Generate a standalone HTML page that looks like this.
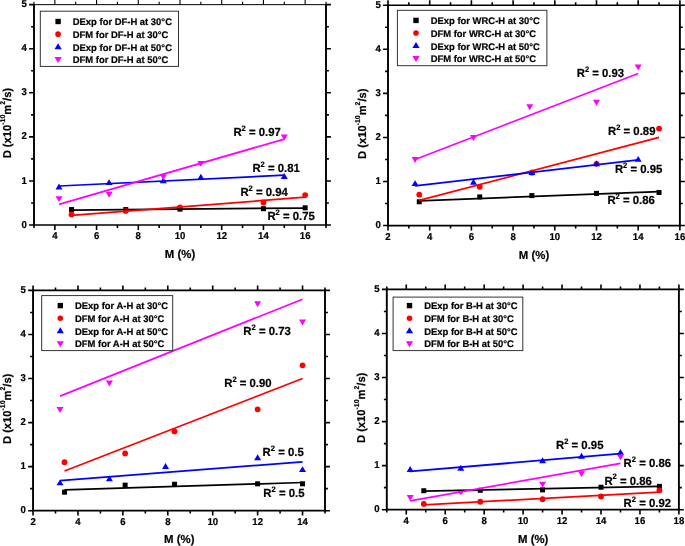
<!DOCTYPE html>
<html><head><meta charset="utf-8"><title>Diffusion coefficient vs moisture</title>
<style>
html,body{margin:0;padding:0;background:#fff;}
body{width:685px;height:546px;overflow:hidden;}
svg{display:block;will-change:transform;font-family:"Liberation Sans",sans-serif;font-weight:bold;fill:#000;}
text{stroke:#000;stroke-width:0.2px;text-rendering:geometricPrecision;}
</style></head>
<body>
<svg width="685" height="546" viewBox="0 0 685 546">
<rect width="685" height="546" fill="#fff"/>
<g><rect x="69.04" y="207.08" width="5.00" height="5.00" fill="#000000"/>
<rect x="123.27" y="207.08" width="5.00" height="5.00" fill="#000000"/>
<rect x="177.50" y="206.63" width="5.00" height="5.00" fill="#000000"/>
<rect x="260.93" y="206.19" width="5.00" height="5.00" fill="#000000"/>
<rect x="302.64" y="205.31" width="5.00" height="5.00" fill="#000000"/>
<circle cx="71.54" cy="214.42" r="2.90" fill="#ff0000"/>
<circle cx="125.77" cy="210.90" r="2.90" fill="#ff0000"/>
<circle cx="180.00" cy="207.37" r="2.90" fill="#ff0000"/>
<circle cx="263.43" cy="202.52" r="2.90" fill="#ff0000"/>
<circle cx="305.14" cy="195.03" r="2.90" fill="#ff0000"/>
<polygon points="59.03,183.56 55.53,189.46 62.53,189.46" fill="#0000ff"/>
<polygon points="109.09,179.15 105.59,185.05 112.59,185.05" fill="#0000ff"/>
<polygon points="163.31,177.39 159.81,183.29 166.81,183.29" fill="#0000ff"/>
<polygon points="200.86,173.86 197.36,179.76 204.36,179.76" fill="#0000ff"/>
<polygon points="284.29,172.98 280.79,178.88 287.79,178.88" fill="#0000ff"/>
<polygon points="59.03,202.10 55.53,196.20 62.53,196.20" fill="#ff00ff"/>
<polygon points="109.09,197.69 105.59,191.79 112.59,191.79" fill="#ff00ff"/>
<polygon points="163.31,180.06 159.81,174.16 166.81,174.16" fill="#ff00ff"/>
<polygon points="200.86,166.84 197.36,160.94 204.36,160.94" fill="#ff00ff"/>
<polygon points="284.29,140.40 280.79,134.50 287.79,134.50" fill="#ff00ff"/>
<line x1="71.54" y1="210.02" x2="305.14" y2="208.03" stroke="#000000" stroke-width="1.75"/>
<line x1="71.54" y1="215.30" x2="305.14" y2="197.24" stroke="#ff0000" stroke-width="1.75"/>
<line x1="59.03" y1="186.00" x2="284.29" y2="175.20" stroke="#0000ff" stroke-width="1.75"/>
<line x1="59.03" y1="204.29" x2="284.29" y2="139.06" stroke="#ff00ff" stroke-width="1.75"/>
<path d="M34.00 4.15V225.85M326.00 4.15V225.85" stroke="#000" stroke-width="1.9" fill="none"/>
<path d="M34.00 225.00H326.00" stroke="#000" stroke-width="1.7" fill="none"/>
<path d="M34.00 4.65H326.00" stroke="#000" stroke-width="1.0" fill="none"/>
<path d="M34.00 225.00v2.9M54.86 225.00v4.9M75.71 225.00v2.9M96.57 225.00v4.9M117.43 225.00v2.9M138.29 225.00v4.9M159.14 225.00v2.9M180.00 225.00v4.9M200.86 225.00v2.9M221.71 225.00v4.9M242.57 225.00v2.9M263.43 225.00v4.9M284.29 225.00v2.9M305.14 225.00v4.9M326.00 225.00v2.9M34.00 225.00h-4.9M326.00 225.00h4.9M34.00 202.97h-2.9M326.00 202.97h2.9M34.00 180.93h-4.9M326.00 180.93h4.9M34.00 158.89h-2.9M326.00 158.89h2.9M34.00 136.86h-4.9M326.00 136.86h4.9M34.00 114.83h-2.9M326.00 114.83h2.9M34.00 92.79h-4.9M326.00 92.79h4.9M34.00 70.75h-2.9M326.00 70.75h2.9M34.00 48.72h-4.9M326.00 48.72h4.9M34.00 26.69h-2.9M326.00 26.69h2.9M34.00 4.65h-4.9M326.00 4.65h4.9" stroke="#000" stroke-width="1.6" fill="none"/>
<path d="M34.00 4.65v-2.9M54.86 4.65v-4.9M75.71 4.65v-2.9M96.57 4.65v-4.9M117.43 4.65v-2.9M138.29 4.65v-4.9M159.14 4.65v-2.9M180.00 4.65v-4.9M200.86 4.65v-2.9M221.71 4.65v-4.9M242.57 4.65v-2.9M263.43 4.65v-4.9M284.29 4.65v-2.9M305.14 4.65v-4.9M326.00 4.65v-2.9" stroke="#000" stroke-width="1.10" fill="none"/>
<text transform="translate(54.86 239.00) scale(1 1.04)" text-anchor="middle" font-size="9.6">4</text>
<text transform="translate(96.57 239.00) scale(1 1.04)" text-anchor="middle" font-size="9.6">6</text>
<text transform="translate(138.29 239.00) scale(1 1.04)" text-anchor="middle" font-size="9.6">8</text>
<text transform="translate(180.00 239.00) scale(1 1.04)" text-anchor="middle" font-size="9.6">10</text>
<text transform="translate(221.71 239.00) scale(1 1.04)" text-anchor="middle" font-size="9.6">12</text>
<text transform="translate(263.43 239.00) scale(1 1.04)" text-anchor="middle" font-size="9.6">14</text>
<text transform="translate(305.14 239.00) scale(1 1.04)" text-anchor="middle" font-size="9.6">16</text>
<text transform="translate(26.90 227.60) scale(1 1.04)" text-anchor="end" font-size="9.6">0</text>
<text transform="translate(26.90 183.53) scale(1 1.04)" text-anchor="end" font-size="9.6">1</text>
<text transform="translate(26.90 139.46) scale(1 1.04)" text-anchor="end" font-size="9.6">2</text>
<text transform="translate(26.90 95.39) scale(1 1.04)" text-anchor="end" font-size="9.6">3</text>
<text transform="translate(26.90 51.32) scale(1 1.04)" text-anchor="end" font-size="9.6">4</text>
<text transform="translate(26.90 7.25) scale(1 1.04)" text-anchor="end" font-size="9.6">5</text>
<text transform="translate(180.00 258.00) scale(1 1.02)" text-anchor="middle" font-size="11.4">M (%)</text>
<text transform="translate(11.30 123.12) rotate(-90) scale(1 1.02)" text-anchor="middle" font-size="11.2">D (x10<tspan font-size="6.9" dy="-5.7">-10</tspan><tspan dy="5.7">m</tspan><tspan font-size="6.9" dy="-5.7">2</tspan><tspan dy="5.7">/s)</tspan></text>
<rect x="40.30" y="11.20" width="138.20" height="55.20" fill="#fff" stroke="#2a2a2a" stroke-width="0.95"/>
<rect x="55.40" y="18.80" width="5.40" height="5.40" fill="#000000"/>
<text transform="translate(72.75 25.30) scale(1 1.02)" font-size="9.45">DExp for DF-H at 30°C</text>
<circle cx="58.10" cy="34.15" r="2.80" fill="#ff0000"/>
<text transform="translate(72.75 37.95) scale(1 1.02)" font-size="9.45">DFM for DF-H at 30°C</text>
<polygon points="58.10,43.20 54.50,49.20 61.70,49.20" fill="#0000ff"/>
<text transform="translate(72.75 50.60) scale(1 1.02)" font-size="9.45">DExp for DF-H at 50°C</text>
<polygon points="58.10,63.05 54.50,57.05 61.70,57.05" fill="#ff00ff"/>
<text transform="translate(72.75 63.25) scale(1 1.02)" font-size="9.45">DFM for DF-H at 50°C</text>
<text transform="translate(233.40 136.40) scale(1 1.04)" font-size="11.35">R<tspan font-size="7.6" dy="-5.1">2</tspan><tspan dy="5.1"> = 0.97</tspan></text>
<text transform="translate(252.40 172.40) scale(1 1.04)" font-size="11.35">R<tspan font-size="7.6" dy="-5.1">2</tspan><tspan dy="5.1"> = 0.81</tspan></text>
<text transform="translate(240.40 196.40) scale(1 1.04)" font-size="11.35">R<tspan font-size="7.6" dy="-5.1">2</tspan><tspan dy="5.1"> = 0.94</tspan></text>
<text transform="translate(267.40 220.40) scale(1 1.04)" font-size="11.35">R<tspan font-size="7.6" dy="-5.1">2</tspan><tspan dy="5.1"> = 0.75</tspan></text></g>
<g><rect x="416.77" y="199.26" width="5.00" height="5.00" fill="#000000"/>
<rect x="477.24" y="194.41" width="5.00" height="5.00" fill="#000000"/>
<rect x="529.37" y="193.09" width="5.00" height="5.00" fill="#000000"/>
<rect x="594.00" y="190.89" width="5.00" height="5.00" fill="#000000"/>
<rect x="656.55" y="190.00" width="5.00" height="5.00" fill="#000000"/>
<circle cx="419.27" cy="194.71" r="2.90" fill="#ff0000"/>
<circle cx="479.74" cy="186.78" r="2.90" fill="#ff0000"/>
<circle cx="531.87" cy="172.68" r="2.90" fill="#ff0000"/>
<circle cx="596.50" cy="163.87" r="2.90" fill="#ff0000"/>
<circle cx="659.05" cy="128.62" r="2.90" fill="#ff0000"/>
<polygon points="415.11,180.15 411.61,186.05 418.61,186.05" fill="#0000ff"/>
<polygon points="473.49,178.83 469.99,184.73 476.99,184.73" fill="#0000ff"/>
<polygon points="531.87,169.14 528.37,175.04 535.37,175.04" fill="#0000ff"/>
<polygon points="596.50,160.33 593.00,166.23 600.00,166.23" fill="#0000ff"/>
<polygon points="638.20,155.92 634.70,161.82 641.70,161.82" fill="#0000ff"/>
<polygon points="415.11,163.00 411.61,157.10 418.61,157.10" fill="#ff00ff"/>
<polygon points="473.49,140.97 469.99,135.07 476.99,135.07" fill="#ff00ff"/>
<polygon points="529.78,110.13 526.28,104.23 533.28,104.23" fill="#ff00ff"/>
<polygon points="596.50,105.72 593.00,99.82 600.00,99.82" fill="#ff00ff"/>
<polygon points="638.20,70.47 634.70,64.57 641.70,64.57" fill="#ff00ff"/>
<line x1="419.27" y1="200.88" x2="659.05" y2="191.62" stroke="#000000" stroke-width="1.75"/>
<line x1="419.27" y1="200.44" x2="659.05" y2="137.43" stroke="#ff0000" stroke-width="1.75"/>
<line x1="415.11" y1="185.90" x2="638.20" y2="159.90" stroke="#0000ff" stroke-width="1.75"/>
<line x1="415.11" y1="159.46" x2="638.20" y2="73.54" stroke="#ff00ff" stroke-width="1.75"/>
<path d="M388.00 4.40V226.40M679.90 4.40V226.40" stroke="#000" stroke-width="1.9" fill="none"/>
<path d="M388.00 225.55H679.90" stroke="#000" stroke-width="1.7" fill="none"/>
<path d="M388.00 5.25H679.90" stroke="#000" stroke-width="1.7" fill="none"/>
<path d="M388.00 225.55v4.9M408.85 225.55v2.9M429.70 225.55v4.9M450.55 225.55v2.9M471.40 225.55v4.9M492.25 225.55v2.9M513.10 225.55v4.9M533.95 225.55v2.9M554.80 225.55v4.9M575.65 225.55v2.9M596.50 225.55v4.9M617.35 225.55v2.9M638.20 225.55v4.9M659.05 225.55v2.9M679.90 225.55v4.9M388.00 225.55h-4.9M679.90 225.55h4.9M388.00 203.52h-2.9M679.90 203.52h2.9M388.00 181.49h-4.9M679.90 181.49h4.9M388.00 159.46h-2.9M679.90 159.46h2.9M388.00 137.43h-4.9M679.90 137.43h4.9M388.00 115.40h-2.9M679.90 115.40h2.9M388.00 93.37h-4.9M679.90 93.37h4.9M388.00 71.34h-2.9M679.90 71.34h2.9M388.00 49.31h-4.9M679.90 49.31h4.9M388.00 27.28h-2.9M679.90 27.28h2.9M388.00 5.25h-4.9M679.90 5.25h4.9" stroke="#000" stroke-width="1.6" fill="none"/>
<path d="M388.00 5.25v-4.9M408.85 5.25v-2.9M429.70 5.25v-4.9M450.55 5.25v-2.9M471.40 5.25v-4.9M492.25 5.25v-2.9M513.10 5.25v-4.9M533.95 5.25v-2.9M554.80 5.25v-4.9M575.65 5.25v-2.9M596.50 5.25v-4.9M617.35 5.25v-2.9M638.20 5.25v-4.9M659.05 5.25v-2.9M679.90 5.25v-4.9" stroke="#000" stroke-width="1.60" fill="none"/>
<text transform="translate(388.00 239.55) scale(1 1.04)" text-anchor="middle" font-size="9.6">2</text>
<text transform="translate(429.70 239.55) scale(1 1.04)" text-anchor="middle" font-size="9.6">4</text>
<text transform="translate(471.40 239.55) scale(1 1.04)" text-anchor="middle" font-size="9.6">6</text>
<text transform="translate(513.10 239.55) scale(1 1.04)" text-anchor="middle" font-size="9.6">8</text>
<text transform="translate(554.80 239.55) scale(1 1.04)" text-anchor="middle" font-size="9.6">10</text>
<text transform="translate(596.50 239.55) scale(1 1.04)" text-anchor="middle" font-size="9.6">12</text>
<text transform="translate(638.20 239.55) scale(1 1.04)" text-anchor="middle" font-size="9.6">14</text>
<text transform="translate(679.90 239.55) scale(1 1.04)" text-anchor="middle" font-size="9.6">16</text>
<text transform="translate(380.90 228.15) scale(1 1.04)" text-anchor="end" font-size="9.6">0</text>
<text transform="translate(380.90 184.09) scale(1 1.04)" text-anchor="end" font-size="9.6">1</text>
<text transform="translate(380.90 140.03) scale(1 1.04)" text-anchor="end" font-size="9.6">2</text>
<text transform="translate(380.90 95.97) scale(1 1.04)" text-anchor="end" font-size="9.6">3</text>
<text transform="translate(380.90 51.91) scale(1 1.04)" text-anchor="end" font-size="9.6">4</text>
<text transform="translate(380.90 7.85) scale(1 1.04)" text-anchor="end" font-size="9.6">5</text>
<text transform="translate(534.00 258.50) scale(1 1.02)" text-anchor="middle" font-size="11.4">M (%)</text>
<text transform="translate(365.90 123.70) rotate(-90) scale(1 1.02)" text-anchor="middle" font-size="11.2">D (x10<tspan font-size="6.9" dy="-5.7">-10</tspan><tspan dy="5.7">m</tspan><tspan font-size="6.9" dy="-5.7">2</tspan><tspan dy="5.7">/s)</tspan></text>
<rect x="397.40" y="10.30" width="149.50" height="55.40" fill="#fff" stroke="#2a2a2a" stroke-width="0.95"/>
<rect x="413.30" y="17.70" width="5.40" height="5.40" fill="#000000"/>
<text transform="translate(430.65 24.20) scale(1 1.02)" font-size="9.45">DExp for WRC-H at 30°C</text>
<circle cx="416.00" cy="33.05" r="2.80" fill="#ff0000"/>
<text transform="translate(430.65 36.85) scale(1 1.02)" font-size="9.45">DFM for WRC-H at 30°C</text>
<polygon points="416.00,42.10 412.40,48.10 419.60,48.10" fill="#0000ff"/>
<text transform="translate(430.65 49.50) scale(1 1.02)" font-size="9.45">DExp for WRC-H at 50°C</text>
<polygon points="416.00,61.95 412.40,55.95 419.60,55.95" fill="#ff00ff"/>
<text transform="translate(430.65 62.15) scale(1 1.02)" font-size="9.45">DFM for WRC-H at 50°C</text>
<text transform="translate(576.70 77.10) scale(1 1.04)" font-size="11.35">R<tspan font-size="7.6" dy="-5.1">2</tspan><tspan dy="5.1"> = 0.93</tspan></text>
<text transform="translate(608.00 135.00) scale(1 1.04)" font-size="11.35">R<tspan font-size="7.6" dy="-5.1">2</tspan><tspan dy="5.1"> = 0.89</tspan></text>
<text transform="translate(614.90 173.40) scale(1 1.04)" font-size="11.35">R<tspan font-size="7.6" dy="-5.1">2</tspan><tspan dy="5.1"> = 0.95</tspan></text>
<text transform="translate(607.40 204.00) scale(1 1.04)" font-size="11.35">R<tspan font-size="7.6" dy="-5.1">2</tspan><tspan dy="5.1"> = 0.86</tspan></text></g>
<g><rect x="61.99" y="489.69" width="5.00" height="5.00" fill="#000000"/>
<rect x="122.63" y="482.65" width="5.00" height="5.00" fill="#000000"/>
<rect x="172.03" y="481.76" width="5.00" height="5.00" fill="#000000"/>
<rect x="255.13" y="481.32" width="5.00" height="5.00" fill="#000000"/>
<rect x="300.04" y="481.32" width="5.00" height="5.00" fill="#000000"/>
<circle cx="64.49" cy="462.23" r="2.90" fill="#ff0000"/>
<circle cx="125.13" cy="453.42" r="2.90" fill="#ff0000"/>
<circle cx="174.53" cy="431.39" r="2.90" fill="#ff0000"/>
<circle cx="257.63" cy="409.36" r="2.90" fill="#ff0000"/>
<circle cx="302.54" cy="365.30" r="2.90" fill="#ff0000"/>
<polygon points="60.00,479.40 56.50,485.30 63.50,485.30" fill="#0000ff"/>
<polygon points="109.41,475.44 105.91,481.34 112.91,481.34" fill="#0000ff"/>
<polygon points="165.55,463.10 162.05,469.00 169.05,469.00" fill="#0000ff"/>
<polygon points="257.63,454.29 254.13,460.19 261.13,460.19" fill="#0000ff"/>
<polygon points="302.54,466.18 299.04,472.08 306.04,472.08" fill="#0000ff"/>
<polygon points="60.00,412.90 56.50,407.00 63.50,407.00" fill="#ff00ff"/>
<polygon points="109.41,386.47 105.91,380.57 112.91,380.57" fill="#ff00ff"/>
<polygon points="257.63,307.16 254.13,301.26 261.13,301.26" fill="#ff00ff"/>
<polygon points="302.54,325.44 299.04,319.54 306.04,319.54" fill="#ff00ff"/>
<line x1="64.49" y1="489.99" x2="302.54" y2="482.50" stroke="#000000" stroke-width="1.75"/>
<line x1="64.49" y1="471.05" x2="302.54" y2="378.52" stroke="#ff0000" stroke-width="1.75"/>
<line x1="60.00" y1="480.74" x2="302.54" y2="461.79" stroke="#0000ff" stroke-width="1.75"/>
<line x1="60.00" y1="396.14" x2="302.54" y2="299.21" stroke="#ff00ff" stroke-width="1.75"/>
<path d="M33.05 289.55V511.55M325.00 289.55V511.55" stroke="#000" stroke-width="1.9" fill="none"/>
<path d="M33.05 510.70H325.00" stroke="#000" stroke-width="1.7" fill="none"/>
<path d="M33.05 290.40H325.00" stroke="#000" stroke-width="1.7" fill="none"/>
<path d="M33.05 510.70v4.9M55.51 510.70v2.9M77.97 510.70v4.9M100.42 510.70v2.9M122.88 510.70v4.9M145.34 510.70v2.9M167.80 510.70v4.9M190.25 510.70v2.9M212.71 510.70v4.9M235.17 510.70v2.9M257.63 510.70v4.9M280.08 510.70v2.9M302.54 510.70v4.9M325.00 510.70v2.9M33.05 510.70h-4.9M325.00 510.70h4.9M33.05 488.67h-2.9M325.00 488.67h2.9M33.05 466.64h-4.9M325.00 466.64h4.9M33.05 444.61h-2.9M325.00 444.61h2.9M33.05 422.58h-4.9M325.00 422.58h4.9M33.05 400.55h-2.9M325.00 400.55h2.9M33.05 378.52h-4.9M325.00 378.52h4.9M33.05 356.49h-2.9M325.00 356.49h2.9M33.05 334.46h-4.9M325.00 334.46h4.9M33.05 312.43h-2.9M325.00 312.43h2.9M33.05 290.40h-4.9M325.00 290.40h4.9" stroke="#000" stroke-width="1.6" fill="none"/>
<path d="M33.05 290.40v-4.9M55.51 290.40v-2.9M77.97 290.40v-4.9M100.42 290.40v-2.9M122.88 290.40v-4.9M145.34 290.40v-2.9M167.80 290.40v-4.9M190.25 290.40v-2.9M212.71 290.40v-4.9M235.17 290.40v-2.9M257.63 290.40v-4.9M280.08 290.40v-2.9M302.54 290.40v-4.9M325.00 290.40v-2.9" stroke="#000" stroke-width="1.60" fill="none"/>
<text transform="translate(33.05 524.70) scale(1 1.04)" text-anchor="middle" font-size="9.6">2</text>
<text transform="translate(77.97 524.70) scale(1 1.04)" text-anchor="middle" font-size="9.6">4</text>
<text transform="translate(122.88 524.70) scale(1 1.04)" text-anchor="middle" font-size="9.6">6</text>
<text transform="translate(167.80 524.70) scale(1 1.04)" text-anchor="middle" font-size="9.6">8</text>
<text transform="translate(212.71 524.70) scale(1 1.04)" text-anchor="middle" font-size="9.6">10</text>
<text transform="translate(257.63 524.70) scale(1 1.04)" text-anchor="middle" font-size="9.6">12</text>
<text transform="translate(302.54 524.70) scale(1 1.04)" text-anchor="middle" font-size="9.6">14</text>
<text transform="translate(25.95 513.30) scale(1 1.04)" text-anchor="end" font-size="9.6">0</text>
<text transform="translate(25.95 469.24) scale(1 1.04)" text-anchor="end" font-size="9.6">1</text>
<text transform="translate(25.95 425.18) scale(1 1.04)" text-anchor="end" font-size="9.6">2</text>
<text transform="translate(25.95 381.12) scale(1 1.04)" text-anchor="end" font-size="9.6">3</text>
<text transform="translate(25.95 337.06) scale(1 1.04)" text-anchor="end" font-size="9.6">4</text>
<text transform="translate(25.95 293.00) scale(1 1.04)" text-anchor="end" font-size="9.6">5</text>
<text transform="translate(179.30 543.40) scale(1 1.02)" text-anchor="middle" font-size="11.4">M (%)</text>
<text transform="translate(10.80 408.85) rotate(-90) scale(1 1.02)" text-anchor="middle" font-size="11.2">D (x10<tspan font-size="6.9" dy="-5.7">-10</tspan><tspan dy="5.7">m</tspan><tspan font-size="6.9" dy="-5.7">2</tspan><tspan dy="5.7">/s)</tspan></text>
<rect x="41.70" y="295.60" width="131.00" height="55.00" fill="#fff" stroke="#2a2a2a" stroke-width="0.95"/>
<rect x="57.60" y="302.90" width="5.40" height="5.40" fill="#000000"/>
<text transform="translate(74.95 309.40) scale(1 1.02)" font-size="9.45">DExp for A-H at 30°C</text>
<circle cx="60.30" cy="318.25" r="2.80" fill="#ff0000"/>
<text transform="translate(74.95 322.05) scale(1 1.02)" font-size="9.45">DFM for A-H at 30°C</text>
<polygon points="60.30,327.30 56.70,333.30 63.90,333.30" fill="#0000ff"/>
<text transform="translate(74.95 334.70) scale(1 1.02)" font-size="9.45">DExp for A-H at 50°C</text>
<polygon points="60.30,347.15 56.70,341.15 63.90,341.15" fill="#ff00ff"/>
<text transform="translate(74.95 347.35) scale(1 1.02)" font-size="9.45">DFM for A-H at 50°C</text>
<text transform="translate(243.30 335.00) scale(1 1.04)" font-size="11.35">R<tspan font-size="7.6" dy="-5.1">2</tspan><tspan dy="5.1"> = 0.73</tspan></text>
<text transform="translate(224.20 387.40) scale(1 1.04)" font-size="11.35">R<tspan font-size="7.6" dy="-5.1">2</tspan><tspan dy="5.1"> = 0.90</tspan></text>
<text transform="translate(262.60 455.80) scale(1 1.04)" font-size="11.35">R<tspan font-size="7.6" dy="-5.1">2</tspan><tspan dy="5.1"> = 0.5</tspan></text>
<text transform="translate(263.30 497.20) scale(1 1.04)" font-size="11.35">R<tspan font-size="7.6" dy="-5.1">2</tspan><tspan dy="5.1"> = 0.5</tspan></text></g>
<g><rect x="421.30" y="488.25" width="5.00" height="5.00" fill="#000000"/>
<rect x="477.77" y="487.81" width="5.00" height="5.00" fill="#000000"/>
<rect x="540.09" y="487.37" width="5.00" height="5.00" fill="#000000"/>
<rect x="598.51" y="484.73" width="5.00" height="5.00" fill="#000000"/>
<rect x="656.93" y="483.85" width="5.00" height="5.00" fill="#000000"/>
<circle cx="423.80" cy="503.97" r="2.90" fill="#ff0000"/>
<circle cx="480.27" cy="501.77" r="2.90" fill="#ff0000"/>
<circle cx="542.59" cy="499.13" r="2.90" fill="#ff0000"/>
<circle cx="601.01" cy="496.48" r="2.90" fill="#ff0000"/>
<circle cx="659.43" cy="490.31" r="2.90" fill="#ff0000"/>
<polygon points="410.17,466.07 406.67,471.97 413.67,471.97" fill="#0000ff"/>
<polygon points="460.80,464.74 457.30,470.64 464.30,470.64" fill="#0000ff"/>
<polygon points="542.59,457.25 539.09,463.15 546.09,463.15" fill="#0000ff"/>
<polygon points="581.53,452.85 578.03,458.75 585.03,458.75" fill="#0000ff"/>
<polygon points="620.48,448.88 616.98,454.78 623.98,454.78" fill="#0000ff"/>
<polygon points="410.17,500.90 406.67,495.00 413.67,495.00" fill="#ff00ff"/>
<polygon points="460.80,495.62 457.30,489.72 464.30,489.72" fill="#ff00ff"/>
<polygon points="542.59,487.69 539.09,481.79 546.09,481.79" fill="#ff00ff"/>
<polygon points="581.53,477.11 578.03,471.21 585.03,471.21" fill="#ff00ff"/>
<polygon points="620.48,460.37 616.98,454.47 623.98,454.47" fill="#ff00ff"/>
<line x1="423.80" y1="491.19" x2="659.43" y2="486.35" stroke="#000000" stroke-width="1.75"/>
<line x1="423.80" y1="504.85" x2="659.43" y2="492.08" stroke="#ff0000" stroke-width="1.75"/>
<line x1="410.17" y1="471.37" x2="620.48" y2="453.74" stroke="#0000ff" stroke-width="1.75"/>
<line x1="410.17" y1="500.89" x2="620.48" y2="463.44" stroke="#ff00ff" stroke-width="1.75"/>
<path d="M386.80 288.55V510.55M678.90 288.55V510.55" stroke="#000" stroke-width="1.9" fill="none"/>
<path d="M386.80 509.70H678.90" stroke="#000" stroke-width="1.7" fill="none"/>
<path d="M386.80 289.40H678.90" stroke="#000" stroke-width="1.7" fill="none"/>
<path d="M386.80 509.70v2.9M406.27 509.70v4.9M425.75 509.70v2.9M445.22 509.70v4.9M464.69 509.70v2.9M484.17 509.70v4.9M503.64 509.70v2.9M523.11 509.70v4.9M542.59 509.70v2.9M562.06 509.70v4.9M581.53 509.70v2.9M601.01 509.70v4.9M620.48 509.70v2.9M639.95 509.70v4.9M659.43 509.70v2.9M678.90 509.70v4.9M386.80 509.70h-4.9M678.90 509.70h4.9M386.80 487.67h-2.9M678.90 487.67h2.9M386.80 465.64h-4.9M678.90 465.64h4.9M386.80 443.61h-2.9M678.90 443.61h2.9M386.80 421.58h-4.9M678.90 421.58h4.9M386.80 399.55h-2.9M678.90 399.55h2.9M386.80 377.52h-4.9M678.90 377.52h4.9M386.80 355.49h-2.9M678.90 355.49h2.9M386.80 333.46h-4.9M678.90 333.46h4.9M386.80 311.43h-2.9M678.90 311.43h2.9M386.80 289.40h-4.9M678.90 289.40h4.9" stroke="#000" stroke-width="1.6" fill="none"/>
<path d="M386.80 289.40v-2.9M406.27 289.40v-4.9M425.75 289.40v-2.9M445.22 289.40v-4.9M464.69 289.40v-2.9M484.17 289.40v-4.9M503.64 289.40v-2.9M523.11 289.40v-4.9M542.59 289.40v-2.9M562.06 289.40v-4.9M581.53 289.40v-2.9M601.01 289.40v-4.9M620.48 289.40v-2.9M639.95 289.40v-4.9M659.43 289.40v-2.9M678.90 289.40v-4.9" stroke="#000" stroke-width="1.60" fill="none"/>
<text transform="translate(406.27 523.70) scale(1 1.04)" text-anchor="middle" font-size="9.6">4</text>
<text transform="translate(445.22 523.70) scale(1 1.04)" text-anchor="middle" font-size="9.6">6</text>
<text transform="translate(484.17 523.70) scale(1 1.04)" text-anchor="middle" font-size="9.6">8</text>
<text transform="translate(523.11 523.70) scale(1 1.04)" text-anchor="middle" font-size="9.6">10</text>
<text transform="translate(562.06 523.70) scale(1 1.04)" text-anchor="middle" font-size="9.6">12</text>
<text transform="translate(601.01 523.70) scale(1 1.04)" text-anchor="middle" font-size="9.6">14</text>
<text transform="translate(639.95 523.70) scale(1 1.04)" text-anchor="middle" font-size="9.6">16</text>
<text transform="translate(678.90 523.70) scale(1 1.04)" text-anchor="middle" font-size="9.6">18</text>
<text transform="translate(379.70 512.30) scale(1 1.04)" text-anchor="end" font-size="9.6">0</text>
<text transform="translate(379.70 468.24) scale(1 1.04)" text-anchor="end" font-size="9.6">1</text>
<text transform="translate(379.70 424.18) scale(1 1.04)" text-anchor="end" font-size="9.6">2</text>
<text transform="translate(379.70 380.12) scale(1 1.04)" text-anchor="end" font-size="9.6">3</text>
<text transform="translate(379.70 336.06) scale(1 1.04)" text-anchor="end" font-size="9.6">4</text>
<text transform="translate(379.70 292.00) scale(1 1.04)" text-anchor="end" font-size="9.6">5</text>
<text transform="translate(533.20 542.90) scale(1 1.02)" text-anchor="middle" font-size="11.4">M (%)</text>
<text transform="translate(365.00 407.85) rotate(-90) scale(1 1.02)" text-anchor="middle" font-size="11.2">D (x10<tspan font-size="6.9" dy="-5.7">-10</tspan><tspan dy="5.7">m</tspan><tspan font-size="6.9" dy="-5.7">2</tspan><tspan dy="5.7">/s)</tspan></text>
<rect x="393.10" y="297.10" width="129.70" height="53.50" fill="#fff" stroke="#2a2a2a" stroke-width="0.95"/>
<rect x="406.80" y="302.90" width="5.40" height="5.40" fill="#000000"/>
<text transform="translate(424.15 309.40) scale(1 1.02)" font-size="9.45">DExp for B-H at 30°C</text>
<circle cx="409.50" cy="318.25" r="2.80" fill="#ff0000"/>
<text transform="translate(424.15 322.05) scale(1 1.02)" font-size="9.45">DFM for B-H at 30°C</text>
<polygon points="409.50,327.30 405.90,333.30 413.10,333.30" fill="#0000ff"/>
<text transform="translate(424.15 334.70) scale(1 1.02)" font-size="9.45">DExp for B-H at 50°C</text>
<polygon points="409.50,347.15 405.90,341.15 413.10,341.15" fill="#ff00ff"/>
<text transform="translate(424.15 347.35) scale(1 1.02)" font-size="9.45">DFM for B-H at 50°C</text>
<text transform="translate(556.00 449.30) scale(1 1.04)" font-size="11.35">R<tspan font-size="7.6" dy="-5.1">2</tspan><tspan dy="5.1"> = 0.95</tspan></text>
<text transform="translate(623.60 467.30) scale(1 1.04)" font-size="11.35">R<tspan font-size="7.6" dy="-5.1">2</tspan><tspan dy="5.1"> = 0.86</tspan></text>
<text transform="translate(604.40 484.50) scale(1 1.04)" font-size="11.35">R<tspan font-size="7.6" dy="-5.1">2</tspan><tspan dy="5.1"> = 0.86</tspan></text>
<text transform="translate(623.60 506.90) scale(1 1.04)" font-size="11.35">R<tspan font-size="7.6" dy="-5.1">2</tspan><tspan dy="5.1"> = 0.92</tspan></text></g>
</svg>
</body></html>
